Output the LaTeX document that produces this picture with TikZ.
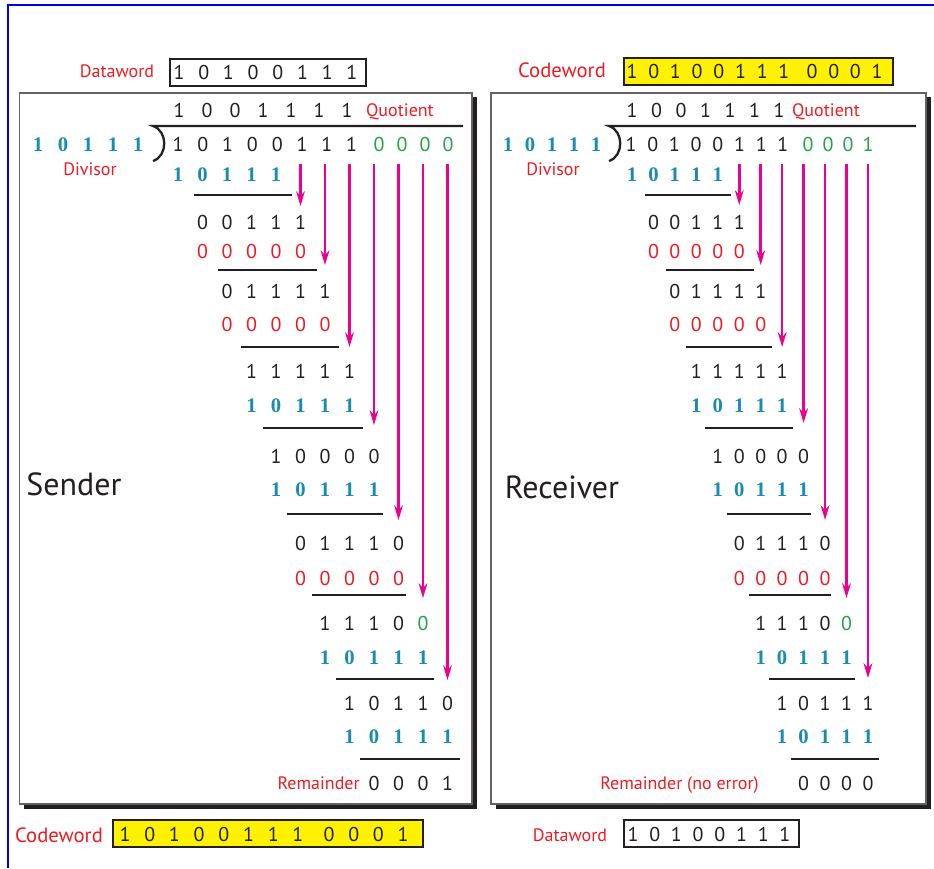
\documentclass[tikz,border=0pt]{standalone}
\usepackage{fontspec}
\setmainfont{PT Sans}
\newfontfamily\tserif{Liberation Serif}
\usetikzlibrary{arrows.meta}
\definecolor{ink}{RGB}{35,31,32}
\definecolor{lred}{RGB}{237,28,36}
\definecolor{tblue}{RGB}{25,140,175}
\definecolor{dgreen}{RGB}{40,160,70}
\definecolor{mag}{RGB}{236,0,140}
\definecolor{yel}{RGB}{255,242,0}
\definecolor{fblue}{RGB}{0,0,235}
% #1 name prefix, #2 x of index 1, #3 step, #4 first index, #5 y, #6 style, #7 digits
\newcommand{\drow}[7]{%
  \foreach \d [count=\i from #4] in {#7} {\node[#6] (#1-\i) at ({#2+#3*(\i-1)},#5) {\d};}}
% #1 prefix, #2 x of column 1, #3 column step, #4 row-14 digits, #5 remainder digits, #6 arrow tips
\newcommand{\longdiv}[6]{%
  \drow{#1r1}{#2}{#3}{1}{174}{bdig}{1,0,1,1,1}
  \drow{#1r2}{#2}{#3}{2}{222}{dig}{0,0,1,1,1}
  \drow{#1r3}{#2}{#3}{2}{251}{rdig}{0,0,0,0,0}
  \drow{#1r4}{#2}{#3}{3}{291}{dig}{0,1,1,1,1}
  \drow{#1r5}{#2}{#3}{3}{324}{rdig}{0,0,0,0,0}
  \drow{#1r6}{#2}{#3}{4}{371}{dig}{1,1,1,1,1}
  \drow{#1r7}{#2}{#3}{4}{405}{bdig}{1,0,1,1,1}
  \drow{#1r8}{#2}{#3}{5}{456}{dig}{1,0,0,0,0}
  \drow{#1r9}{#2}{#3}{5}{489}{bdig}{1,0,1,1,1}
  \drow{#1r10}{#2}{#3}{6}{543}{dig}{0,1,1,1,0}
  \drow{#1r11}{#2}{#3}{6}{578}{rdig}{0,0,0,0,0}
  \drow{#1r12}{#2}{#3}{7}{623}{dig}{1,1,1,0}
  \node[gdig] (#1r12-11) at ({#2+#3*10},623) {0};
  \drow{#1r13}{#2}{#3}{7}{657}{bdig}{1,0,1,1,1}
  \drow{#1r14}{#2}{#3}{8}{703}{dig}{#4}
  \drow{#1r15}{#2}{#3}{8}{736}{bdig}{1,0,1,1,1}
  \drow{#1rem}{#2}{#3}{9}{783}{dig}{#5}
  \foreach \k/\ty in {#6} {
    \coordinate (#1a\k s) at ({#2+#3*(\k-1)},164);
    \coordinate (#1a\k e) at ({#2+#3*(\k-1)},\ty);
    \draw[arr] (#1a\k s) -- (#1a\k e);}
}
\begin{document}
\begin{tikzpicture}[x=0.75pt,y=-0.75pt,
  dig/.style={font=\fontsize{15}{15}\selectfont, text=ink, inner sep=0pt, text height=10.5pt, text depth=0pt},
  rdig/.style={dig, text=lred},
  gdig/.style={dig, text=dgreen},
  bdig/.style={font=\tserif\bfseries\fontsize{15.5}{15.5}\selectfont, text=tblue, inner sep=0pt, text height=10.5pt, text depth=0pt},
  lab/.style={font=\fontsize{13.5}{13.5}\selectfont, text=lred, inner sep=0pt, text height=9.5pt, text depth=0pt},
  clab/.style={lab, font=\fontsize{15.5}{15.5}\selectfont, text height=11pt},
  big/.style={font=\fontsize{24}{24}\selectfont, text=ink, inner sep=0pt, text height=17pt, text depth=0pt},
  rule/.style={draw=ink, line width=1.9pt},
  divline/.style={draw=ink, line width=1.7pt},
  arr/.style={draw=mag, line width=2pt, -{Stealth[length=11pt,width=6.5pt]}},
  panel/.style={draw=ink!70, line width=0.8pt, fill=white},
  shade/.style={fill=ink},
  wordbox/.style={draw=ink, line width=1.5pt},
]
\useasboundingbox (0,0) rectangle (934,868);
\fill[white] (0,0) rectangle (934,868);
\draw[fblue, line width=1.5pt] (8.3,868) -- (8.3,5) -- (934,5);

% panels
\fill[shade] (24,97) rectangle (476.5,809);
\draw[panel] (19.5,93) rectangle (472,804);
\fill[shade] (495.5,97) rectangle (931,809);
\draw[panel] (491,93) rectangle (926,804);

% ---------- top words ----------
\node[lab] (dwlab1) at (117,71) {Dataword};
\draw[wordbox, fill=white] (170,59) rectangle (366,86);
\drow{dw1}{179}{24.7}{1}{72.5}{dig}{1,0,1,0,0,1,1,1}

\node[clab] (cwlab1) at (562,70) {Codeword};
\draw[wordbox, fill=yel] (624,58) rectangle (893,85);
\drow{cw1}{632}{21.7}{1}{71.5}{dig}{1,0,1,0,0,1,1,1}
\drow{cw1}{638.4}{21.7}{9}{71.5}{dig}{0,0,0,1}

% ---------- left (sender) ----------
\drow{Lq}{179}{28}{1}{110}{dig}{1,0,0,1,1,1,1}
\node[lab] (Lqlab) at (400,110) {Quotient};
\drow{Ldvs}{38}{25}{1}{144}{bdig}{1,0,1,1,1}
\node[lab] (Ldvslab) at (90,169) {Divisor};
\drow{Ldd}{178}{24.8}{1}{144}{dig}{1,0,1,0,0,1,1,1}
\drow{Ldd}{195}{23}{9}{144}{gdig}{0,0,0,0}
\draw[divline] (463,126) -- (153,126) .. controls (168,131) and (168,156) .. (153,161);
\longdiv{L}{178}{24.5}{1,0,1,1,0}{0,0,0,1}{6/206,7/265,8/347,9/425,10/520,11/598,12/680}
\foreach \a/\b/\y in {194/292/195,218/317/270,241/339/347,263/363/428,287/383/514,312/406/595,336/434/679,360/460/759}
  \draw[rule] (\a,\y) -- (\b,\y);
\node[lab, anchor=east] (Lremlab) at (360,783) {Remainder};
\node[big] (sender) at (74,484) {Sender};

% ---------- right (receiver) ----------
\drow{Rq}{632}{24.5}{1}{110}{dig}{1,0,0,1,1,1,1}
\node[lab] (Rqlab) at (826,110) {Quotient};
\drow{Rdvs}{508}{22}{1}{144}{bdig}{1,0,1,1,1}
\node[lab] (Rdvslab) at (553,169) {Divisor};
\drow{Rdd}{631}{21.7}{1}{144}{dig}{1,0,1,0,0,1,1,1}
\drow{Rdd}{648}{20}{9}{144}{gdig}{0,0,0,1}
\draw[divline] (916,126) -- (609,126) .. controls (624,131) and (624,156) .. (609,161);
\longdiv{R}{632}{21.45}{1,0,1,1,1}{0,0,0,0}{6/205,7/265,8/347,9/423,10/520,11/598,12/678}
\foreach \a/\b/\y in {645/731/195,666/754/270,686/772/347,705/793/428,727/811/514,749/831/595,769/855/679,791/879/759}
  \draw[rule] (\a,\y) -- (\b,\y);
\node[lab, anchor=east] (Rremlab) at (759,783) {Remainder (no error)};
\node[big] (receiver) at (562,487) {Receiver};

% ---------- bottom words ----------
\node[clab] (cwlab2) at (59,835) {Codeword};
\draw[wordbox, fill=yel] (113,820) rectangle (423,847);
\drow{cw2}{125}{24.7}{1}{834}{dig}{1,0,1,0,0,1,1,1}
\drow{cw2}{131.4}{24.7}{9}{834}{dig}{0,0,0,1}

\node[lab] (dwlab2) at (570,835) {Dataword};
\draw[wordbox, fill=white] (624,820) rectangle (799,847);
\drow{dw2}{633}{21.7}{1}{834}{dig}{1,0,1,0,0,1,1,1}
\end{tikzpicture}
\end{document}
